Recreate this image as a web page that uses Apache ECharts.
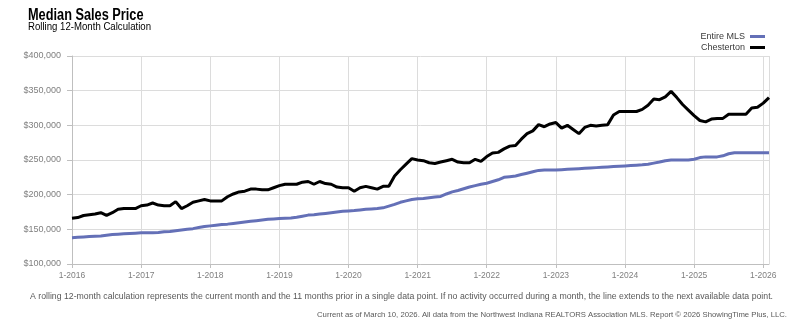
<!DOCTYPE html>
<html><head><meta charset="utf-8">
<script src="https://cdn.jsdelivr.net/npm/echarts@6/dist/echarts.min.js"></script>
<style>html,body{margin:0;padding:0;background:#fff}#c{width:803px;height:330px}</style>
</head><body><div id="c"></div>
<script>
// Month categories Jan 2016 .. Feb 2026
var categories = [];
for (var y = 2016; y <= 2026; y++) {
  for (var m = 1; m <= 12; m++) {
    if (y === 2026 && m > 2) break;
    categories.push(m + '-' + y);
  }
}
var yTicks = [100000, 150000, 200000, 250000, 300000, 350000, 400000];
var chesterton = [
166000,167000,170000,171000,172000,174000,170000,174000,179000,180000,180000,180000,
184000,185000,188000,185000,184000,184000,190000,180000,184000,189000,191000,193000,
191000,191000,191000,197000,201000,204000,205000,208000,208000,207000,207000,210000,
213000,215000,215000,215000,218000,219000,215000,219000,216000,215000,211000,210000,
210000,205000,210000,212000,210000,208000,212000,212000,227000,236000,244000,252000,
250000,249000,246000,245000,247000,249000,251000,247000,246000,246000,251000,248000,
255000,260000,261000,266000,270000,271000,280000,288000,292000,301000,298000,302000,
304000,296000,300000,294000,288000,297000,300000,299000,300000,301000,315000,320000,
320000,320000,320000,323000,329000,338000,337000,341000,349000,340000,330000,322000,
314000,307000,305000,309000,310000,310000,316000,316000,316000,316000,325000,326000,
332000,340000
];
var entireMLS = [
138000,138500,139000,139500,140000,140500,141500,142500,143000,143500,144000,144500,
145000,145000,145000,145500,146500,147000,148000,149000,150000,151000,152500,154000,
155000,156000,157000,157500,158500,159500,160500,161500,162500,163500,164500,165000,
165500,166000,166500,167500,169000,170500,171000,172000,173000,174000,175000,176000,
176500,177000,178000,179000,179500,180000,181000,183500,186000,189000,191000,193000,
194000,194500,195500,196500,197500,201000,204000,206000,208500,211000,213000,215000,
216500,219000,221500,225000,226000,227000,229000,231000,233000,235000,235500,235500,
235500,236000,236500,237000,237500,238000,238500,239000,239500,240000,240500,241000,
241500,242000,242500,243000,244000,245500,247000,249000,250000,250000,250000,250000,
251000,253500,254500,254500,254500,256000,259000,260500,260500,260500,260500,260500,
260500,260500
];
var seriesNames = ['Entire MLS', 'Chesterton'];
var titleText = 'Median Sales Price';
var subtitleText = 'Rolling 12-Month Calculation';
var footnote1 = 'A rolling 12-month calculation represents the current month and the 11 months prior in a single data point. If no activity occurred during a month, the line extends to the next available data point.';
var footnote2 = 'Current as of March 10, 2026. All data from the Northwest Indiana REALTORS Association MLS. Report \u00a9 2026 ShowingTime Plus, LLC.';

var FONT = '"Liberation Sans", Arial, sans-serif';
var last = categories.length - 1;
function showIdx(i) { return i % 12 === 0 || i === last; }

var mctx = document.createElement('canvas').getContext('2d');
function fitScale(text, font, target) {
  mctx.font = font;
  return target / mctx.measureText(text).width;
}
var fTitle = 'bold 16px ' + FONT;
var fSub = '10.5px ' + FONT;
var fFoot1 = '9.5px ' + FONT;
var fFoot2 = '8px ' + FONT;

var chart = echarts.init(document.getElementById('c'), null, {renderer: 'canvas'});
chart.setOption({
  animation: false,
  backgroundColor: '#fff',
  legend: {
    orient: 'vertical', right: 33, top: 27, align: 'right',
    itemWidth: 15, itemHeight: 3, itemGap: 2,
    icon: 'rect',
    textStyle: {fontFamily: FONT, fontSize: 9, color: '#3a3a3a', padding: 0},
    data: seriesNames
  },
  grid: {left: 72, right: 34, top: 56, bottom: 66, containLabel: false},
  xAxis: {
    type: 'category', data: categories, boundaryGap: false,
    axisLine: {show: true, lineStyle: {color: '#bfbfbf', width: 1}},
    axisTick: {show: true, length: 4, interval: function (i) { return i % 12 === 0; }, lineStyle: {color: '#bfbfbf'}},
    axisLabel: {
      interval: function (i) { return i % 12 === 0; },
      formatter: function (v) { var p = v.split('-'); return p[0] === '1' ? v : ''; },
      fontFamily: FONT, fontSize: 8.5, color: '#7f7f7f', margin: 7
    },
    splitLine: {show: true, interval: function (i) { return showIdx(i); }, lineStyle: {color: '#dcdcdc', width: 1}}
  },
  yAxis: {
    type: 'value', min: yTicks[0], max: yTicks[yTicks.length - 1], interval: yTicks[1] - yTicks[0],
    axisLine: {show: true, lineStyle: {color: '#bfbfbf'}},
    axisTick: {show: true, length: 5, lineStyle: {color: '#bfbfbf'}},
    axisLabel: {
      fontFamily: FONT, fontSize: 9, color: '#7f7f7f', margin: 11,
      formatter: function (v) { return '$' + v.toLocaleString('en-US'); }
    },
    splitLine: {show: true, lineStyle: {color: '#dcdcdc', width: 1}}
  },
  series: [
    {name: seriesNames[0], type: 'line', data: entireMLS, showSymbol: false, symbol: 'none',
     lineStyle: {color: '#6470b7', width: 3}, itemStyle: {color: '#6470b7'}, z: 2},
    {name: seriesNames[1], type: 'line', data: chesterton, showSymbol: false, symbol: 'none',
     lineStyle: {color: '#000', width: 3}, itemStyle: {color: '#000'}, z: 3}
  ],
  graphic: [
    {type: 'text', x: 28, y: 15.5, scaleX: fitScale(titleText, fTitle, 115.5), style: {
      text: titleText, font: fTitle, fill: '#000', textAlign: 'left', textVerticalAlign: 'middle'}},
    {type: 'text', x: 28, y: 27.5, scaleX: fitScale(subtitleText, fSub, 123), style: {
      text: subtitleText, font: fSub, fill: '#000', textAlign: 'left', textVerticalAlign: 'middle'}},
    {type: 'text', x: 30, y: 296, scaleX: fitScale(footnote1, fFoot1, 743), style: {
      text: footnote1, font: fFoot1, fill: '#595959', textAlign: 'left', textVerticalAlign: 'middle'}},
    {type: 'text', x: 787, y: 315, scaleX: fitScale(footnote2, fFoot2, 470), style: {
      text: footnote2, font: fFoot2, fill: '#595959', textAlign: 'right', textVerticalAlign: 'middle'}}
  ]
});
</script></body></html>
